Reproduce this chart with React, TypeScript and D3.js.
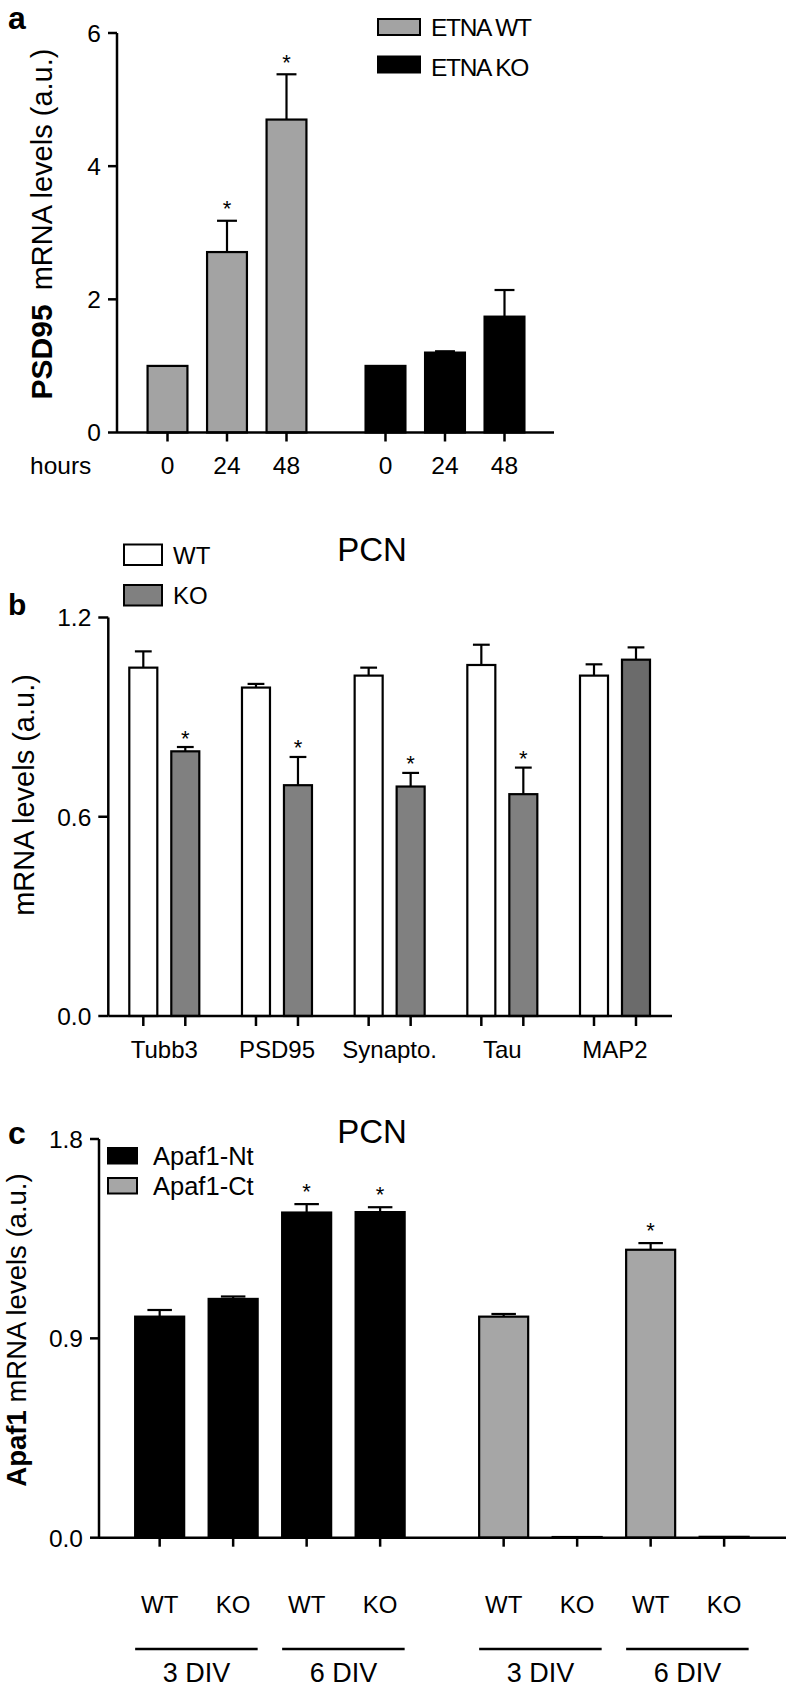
import React from "react";
import * as d3 from "d3";

const FONT = '"Liberation Sans", Arial, Helvetica, sans-serif';

// ---------- Panel a data ----------
const aGroups = ["ETNA WT", "ETNA KO"];
const aHours = ["0", "24", "48"];
const aWT = [1.0, 2.71, 4.7];
const aWTErr = [0, 0.47, 0.68];
const aWTSig = [false, true, true];
const aKO = [1.0, 1.2, 1.74];
const aKOErr = [0, 0.02, 0.4];
const aKOSig = [false, false, false];
const aYTicks = [0, 2, 4, 6];

// ---------- Panel b data ----------
const bGenes = ["Tubb3", "PSD95", "Synapto.", "Tau", "MAP2"];
const bSeries = ["WT", "KO"];
const bWT = [1.049, 0.989, 1.025, 1.057, 1.025];
const bWTErr = [0.049, 0.011, 0.024, 0.061, 0.034];
const bKO = [0.797, 0.695, 0.691, 0.668, 1.073];
const bKOErr = [0.013, 0.085, 0.041, 0.08, 0.037];
const bKOSig = [true, true, true, true, false];
const bYTicks = [0, 0.6, 1.2];

// ---------- Panel c data ----------
const cSeries = ["Apaf1-Nt", "Apaf1-Ct"];
const cDivs = ["3 DIV", "6 DIV"];
const cGenos = ["WT", "KO"];
const cNt = [0.998, 1.078, 1.468, 1.47];
const cNtErr = [0.03, 0.011, 0.038, 0.022];
const cNtSig = [false, false, true, true];
const cCt = [0.998, 0.003, 1.3, 0.004];
const cCtErr = [0.012, 0, 0.03, 0];
const cCtSig = [false, false, true, false];
const cYTicks = [0, 0.9, 1.8];

const GRAY_A = "#a3a3a3";
const GRAY_B = "#808080";
const GRAY_B_DARK = "#6b6b6b";
const GRAY_C = "#a6a6a6";

type BarSpec = {
  key: string;
  x: number;
  w: number;
  v: number;
  err: number;
  sig: boolean;
  fill: string;
};

function Bars({
  bars,
  y,
  capFrac,
  starGap,
  sw,
}: {
  bars: BarSpec[];
  y: d3.ScaleLinear<number, number>;
  capFrac: number;
  starGap: number;
  sw: number;
}) {
  const y0 = y(0);
  return (
    <g>
      {bars.map((b) => {
        const top = y(b.v);
        const errTop = y(b.v + b.err);
        const cx = b.x + b.w / 2;
        const cap = b.w * capFrac;
        return (
          <g key={b.key}>
            {b.err > 0 && (
              <g stroke="#000" strokeWidth={sw}>
                <line x1={cx} x2={cx} y1={top} y2={errTop} />
                <line x1={cx - cap / 2} x2={cx + cap / 2} y1={errTop} y2={errTop} />
              </g>
            )}
            <rect
              x={b.x}
              y={top}
              width={b.w}
              height={Math.max(0, y0 - top)}
              fill={b.fill}
              stroke="#000"
              strokeWidth={sw}
            />
            {b.sig && (
              <text
                x={cx}
                y={errTop - starGap + 12.5}
                textAnchor="middle"
                fontSize={22}
                fontFamily={FONT}
              >
                *
              </text>
            )}
          </g>
        );
      })}
    </g>
  );
}

function YAxis({
  y,
  ticks,
  x,
  tickLen,
  fmt,
  fontSize,
}: {
  y: d3.ScaleLinear<number, number>;
  ticks: number[];
  x: number;
  tickLen: number;
  fmt: (v: number) => string;
  fontSize: number;
}) {
  const [d0, d1] = y.domain();
  return (
    <g>
      <line x1={x} x2={x} y1={y(d0)} y2={y(d1)} stroke="#000" strokeWidth={2.5} />
      {ticks.map((t) => (
        <g key={t}>
          <line x1={x - tickLen} x2={x} y1={y(t)} y2={y(t)} stroke="#000" strokeWidth={2.5} />
          <text
            x={x - tickLen - 7}
            y={y(t)}
            dy="0.36em"
            textAnchor="end"
            fontSize={fontSize}
            fontFamily={FONT}
          >
            {fmt(t)}
          </text>
        </g>
      ))}
    </g>
  );
}

function PanelA() {
  const y = d3.scaleLinear().domain([0, 6]).range([432.5, 33]);
  const gx = d3.scalePoint<string>().domain(aGroups).range([227, 445]);
  const inner = d3
    .scaleBand<string>()
    .domain(aHours)
    .range([-89.25, 89.25])
    .paddingInner(0.33)
    .paddingOuter(0.165);
  const bw = inner.bandwidth();
  const bars: BarSpec[] = [];
  aGroups.forEach((g, gi) => {
    const vals = gi === 0 ? aWT : aKO;
    const errs = gi === 0 ? aWTErr : aKOErr;
    const sig = gi === 0 ? aWTSig : aKOSig;
    aHours.forEach((h, i) => {
      bars.push({
        key: g + h,
        x: (gx(g) as number) + (inner(h) as number),
        w: bw,
        v: vals[i],
        err: errs[i],
        sig: sig[i],
        fill: gi === 0 ? GRAY_A : "#000",
      });
    });
  });
  const y0 = y(0);
  return (
    <g>
      <text x={8} y={29} fontSize={32} fontWeight="bold" fontFamily={FONT}>
        a
      </text>
      <Bars bars={bars} y={y} capFrac={0.5} starGap={17} sw={2.2} />
      <YAxis y={y} ticks={aYTicks} x={117} tickLen={9} fmt={(v) => String(v)} fontSize={24.5} />
      <line x1={117} x2={554} y1={y0} y2={y0} stroke="#000" strokeWidth={2.5} />
      {bars.map((b, i) => (
        <g key={"t" + b.key}>
          <line x1={b.x + b.w / 2} x2={b.x + b.w / 2} y1={y0} y2={y0 + 9} stroke="#000" strokeWidth={2.5} />
          <text x={b.x + b.w / 2} y={474} textAnchor="middle" fontSize={24.5} fontFamily={FONT}>
            {aHours[i % 3]}
          </text>
        </g>
      ))}
      <text x={30} y={474} fontSize={24.5} fontFamily={FONT}>
        hours
      </text>
      <text
        transform="translate(52,224) rotate(-90)"
        textAnchor="middle"
        fontSize={29}
        fontFamily={FONT}
      >
        <tspan fontWeight="bold" fontSize={30}>
          PSD95
        </tspan>
        <tspan dx={6}> mRNA levels (a.u.)</tspan>
      </text>
      {aGroups.map((g, i) => (
        <g key={"lg" + g}>
          <rect
            x={378}
            y={19 + i * 37.5}
            width={42}
            height={16}
            fill={i === 0 ? GRAY_A : "#000"}
            stroke="#000"
            strokeWidth={2}
          />
          <text x={431} y={27 + i * 40} dy="0.36em" fontSize={24.5} fontFamily={FONT} letterSpacing={-1.3}>
            {g}
          </text>
        </g>
      ))}
    </g>
  );
}

function PanelB() {
  const y = d3.scaleLinear().domain([0, 1.2]).range([1016, 617.5]);
  const gx = d3.scalePoint<string>().domain(bGenes).range([164.3, 615]);
  const inner = d3
    .scaleBand<string>()
    .domain(bSeries)
    .range([-42, 42])
    .paddingInner(0.333)
    .paddingOuter(0.1667);
  const bw = inner.bandwidth();
  const bars: BarSpec[] = [];
  bGenes.forEach((g, i) => {
    bars.push({
      key: g + "WT",
      x: (gx(g) as number) + (inner("WT") as number),
      w: bw,
      v: bWT[i],
      err: bWTErr[i],
      sig: false,
      fill: "#fff",
    });
    bars.push({
      key: g + "KO",
      x: (gx(g) as number) + (inner("KO") as number),
      w: bw,
      v: bKO[i],
      err: bKOErr[i],
      sig: bKOSig[i],
      fill: g === "MAP2" ? GRAY_B_DARK : GRAY_B,
    });
  });
  const y0 = y(0);
  return (
    <g>
      <text x={8} y={615} fontSize={30} fontWeight="bold" fontFamily={FONT}>
        b
      </text>
      <text x={372} y={561} textAnchor="middle" fontSize={33} fontFamily={FONT}>
        PCN
      </text>
      <Bars bars={bars} y={y} capFrac={0.6} starGap={14} sw={2.2} />
      <YAxis y={y} ticks={bYTicks} x={108.3} tickLen={10} fmt={(v) => v.toFixed(1)} fontSize={24.5} />
      <line x1={108.3} x2={672} y1={y0} y2={y0} stroke="#000" strokeWidth={2.5} />
      {bars.map((b) => (
        <line
          key={"t" + b.key}
          x1={b.x + b.w / 2}
          x2={b.x + b.w / 2}
          y1={y0}
          y2={y0 + 10}
          stroke="#000"
          strokeWidth={2.5}
        />
      ))}
      {bGenes.map((g) => (
        <text key={"l" + g} x={gx(g)} y={1058} textAnchor="middle" fontSize={24} fontFamily={FONT}>
          {g}
        </text>
      ))}
      <text
        transform="translate(34,795) rotate(-90)"
        textAnchor="middle"
        fontSize={29}
        fontFamily={FONT}
      >
        mRNA levels (a.u.)
      </text>
      {bSeries.map((s, i) => (
        <g key={"lg" + s}>
          <rect
            x={124}
            y={544.5 + i * 40.5}
            width={38}
            height={20.5}
            fill={i === 0 ? "#fff" : GRAY_B}
            stroke="#000"
            strokeWidth={2}
          />
          <text x={173} y={555 + i * 40.5} dy="0.36em" fontSize={24} fontFamily={FONT}>
            {s}
          </text>
        </g>
      ))}
    </g>
  );
}

function PanelC() {
  const y = d3.scaleLinear().domain([0, 1.8]).range([1537.7, 1139]);
  const sx = d3.scalePoint<string>().domain(cSeries).range([269.9, 613.9]);
  const combos = cDivs.flatMap((d) => cGenos.map((g) => d + "|" + g));
  const inner = d3
    .scaleBand<string>()
    .domain(combos)
    .range([-147, 147])
    .paddingInner(0.333)
    .paddingOuter(0.1667);
  const bw = inner.bandwidth();
  const bars: BarSpec[] = [];
  cSeries.forEach((s, si) => {
    const vals = si === 0 ? cNt : cCt;
    const errs = si === 0 ? cNtErr : cCtErr;
    const sig = si === 0 ? cNtSig : cCtSig;
    combos.forEach((c, i) => {
      bars.push({
        key: s + c,
        x: (sx(s) as number) + (inner(c) as number),
        w: bw,
        v: vals[i],
        err: errs[i],
        sig: sig[i],
        fill: si === 0 ? "#000" : GRAY_C,
      });
    });
  });
  const y0 = y(0);
  return (
    <g>
      <text x={8} y={1144} fontSize={32} fontWeight="bold" fontFamily={FONT}>
        c
      </text>
      <text x={372} y={1143} textAnchor="middle" fontSize={33} fontFamily={FONT}>
        PCN
      </text>
      <Bars bars={bars} y={y} capFrac={0.5} starGap={18} sw={2.2} />
      <YAxis y={y} ticks={cYTicks} x={99} tickLen={9} fmt={(v) => v.toFixed(1)} fontSize={24.5} />
      <line x1={99} x2={786} y1={y0} y2={y0} stroke="#000" strokeWidth={2.5} />
      {bars.map((b, i) => (
        <g key={"t" + b.key}>
          <line
            x1={b.x + b.w / 2}
            x2={b.x + b.w / 2}
            y1={y0}
            y2={y0 + 9}
            stroke="#000"
            strokeWidth={2.5}
          />
          <text x={b.x + b.w / 2} y={1613} textAnchor="middle" fontSize={24} fontFamily={FONT}>
            {cGenos[i % 2]}
          </text>
        </g>
      ))}
      {cSeries.map((s) =>
        cDivs.map((d) => {
          const x1 = (sx(s) as number) + (inner(d + "|WT") as number);
          const x2 = (sx(s) as number) + (inner(d + "|KO") as number) + bw;
          return (
            <g key={s + d}>
              <line x1={x1} x2={x2} y1={1649} y2={1649} stroke="#000" strokeWidth={2.5} />
              <text x={(x1 + x2) / 2} y={1682} textAnchor="middle" fontSize={27} fontFamily={FONT}>
                {d}
              </text>
            </g>
          );
        })
      )}
      <text
        transform="translate(26,1330) rotate(-90)"
        textAnchor="middle"
        fontSize={27.5}
        fontFamily={FONT}
      >
        <tspan fontWeight="bold">Apaf1</tspan>
        <tspan> mRNA levels (a.u.)</tspan>
      </text>
      {cSeries.map((s, i) => (
        <g key={"lg" + s}>
          <rect
            x={108}
            y={1148 + i * 30}
            width={29}
            height={15.5}
            fill={i === 0 ? "#000" : GRAY_C}
            stroke="#000"
            strokeWidth={2}
          />
          <text x={153} y={1156 + i * 30} dy="0.36em" fontSize={25.5} fontFamily={FONT}>
            {s}
          </text>
        </g>
      ))}
    </g>
  );
}

export default function App() {
  return (
    <div style={{ position: "absolute", left: 0, top: 0, background: "#fff" }}>
      <svg width={786} height={1698} style={{ display: "block" }}>
        <rect width={786} height={1698} fill="#fff" />
        <PanelA />
        <PanelB />
        <PanelC />
      </svg>
    </div>
  );
}
